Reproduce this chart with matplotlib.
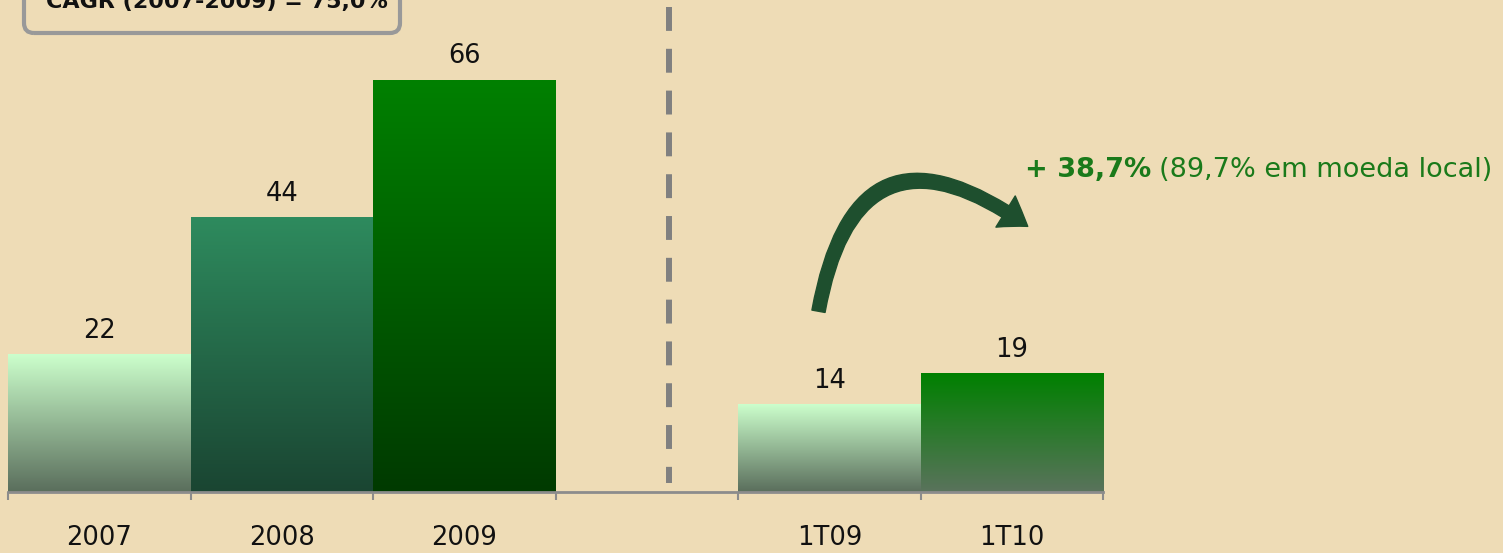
import numpy as np
import matplotlib.pyplot as plt
from matplotlib.colors import LinearSegmentedColormap
from matplotlib.patches import FancyArrowPatch, FancyBboxPatch
from matplotlib.transforms import IdentityTransform

categories = ["2007", "2008", "2009", "", "1T09", "1T10"]
values = [22, 44, 66, None, 14, 19]
top_colors = ["#ccffcc", "#2e8b5e", "#008000", None, "#ccffcc", "#008000"]
bottom_colors = ["#5a6e5c", "#1a4532", "#003a00", None, "#5a6e5c", "#5a735c"]
cagr_text = "CAGR (2007-2009) = 75,0%"
growth_bold = "+ 38,7%"
growth_rest = "(89,7% em moeda local)"

W, H = 1503, 553
BG = "#eedcb6"


def px(x, y):
    # image pixel -> figure fraction
    return x / W, 1 - y / H


fig = plt.figure(figsize=(W / 100, H / 100), dpi=100, facecolor=BG)
ax = fig.add_axes([8 / W, 61 / H, 1095 / W, 492 / H])
ax.set_facecolor("none")

ymax = 66 * 492 / 412
grad = np.linspace(0, 1, 256).reshape(-1, 1)
for i, v in enumerate(values):
    if v is None:
        continue
    cmap = LinearSegmentedColormap.from_list("g%d" % i, [bottom_colors[i], top_colors[i]])
    ax.imshow(grad, cmap=cmap, origin="lower", aspect="auto",
              extent=(i - 0.5, i + 0.5, 0, v), zorder=2, interpolation="bilinear")
    ax.text(i, v + 1.7, str(v), ha="center", va="bottom", fontsize=18.5, color="#111111")
ax.set_xlim(-0.5, len(categories) - 0.5)
ax.set_ylim(0, ymax)

# axis styling
for s in ["top", "right", "left"]:
    ax.spines[s].set_visible(False)
ax.spines["bottom"].set_color("#8c8c8c")
ax.spines["bottom"].set_linewidth(2)
ax.spines["bottom"].set_zorder(3)
ax.set_yticks([])
ax.set_xticks(np.arange(-0.5, len(categories)), labels=[""] * (len(categories) + 1))
ax.tick_params(axis="x", which="major", length=6, width=1.5, color="#8c8c8c", direction="out")
ax.set_xticks(np.arange(len(categories)), labels=categories, minor=True)
ax.tick_params(axis="x", which="minor", length=0, pad=24, labelsize=18.5, labelcolor="#111111")

# dashed separator
ax.plot([3.12, 3.12], [77.7, 1.4], color="#808080", lw=4.3,
        dashes=(4.0, 3.0), solid_capstyle="butt", dash_capstyle="butt", zorder=1)

# CAGR box
box = FancyBboxPatch((24, H - 33), 376, 80, boxstyle="round,pad=0,rounding_size=10",
                     transform=IdentityTransform(), facecolor="none",
                     edgecolor="#999999", linewidth=3)
fig.patches.append(box)
x0, y0 = px(217, 2)
fig.text(x0, y0, cagr_text, ha="center", va="center", fontsize=16,
         fontweight="bold", color="#111111")

# growth arrow
s = px(818, 314)
e = px(1030, 228)
arrow = FancyArrowPatch(s, e, transform=fig.transFigure,
                        connectionstyle="arc3,rad=-0.8",
                        arrowstyle="simple,head_length=0.8,head_width=1.1,tail_width=0.4",
                        mutation_scale=24, facecolor="#1e4f2e", edgecolor="#1e4f2e")
fig.patches.append(arrow)

gx, gy = px(1025, 170)
t_bold = fig.text(gx, gy, growth_bold, ha="left", va="center", fontsize=19.5,
                  fontweight="bold", color="#1a7a1a")
fig.canvas.draw()
bb = t_bold.get_window_extent()
fig.text((bb.x1 + 8) / W, gy, growth_rest, ha="left", va="center", fontsize=19.5, color="#1a7a1a")

fig.savefig("out.png", dpi=100, facecolor=BG)
